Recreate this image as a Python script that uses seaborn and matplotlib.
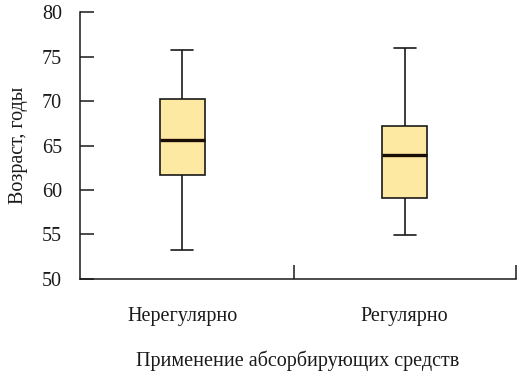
import numpy as np
import pandas as pd
import matplotlib
matplotlib.use("Agg")
import matplotlib.pyplot as plt
import seaborn as sns
from matplotlib.ticker import FixedLocator

# values: whisker low, Q1, median, Q3, whisker high
groups = ["Нерегулярно", "Регулярно"]
irregular = [53.2, 61.7, 65.6, 70.2, 75.8]
regular = [54.9, 59.1, 63.9, 67.2, 76.0]
y_ticks = [50, 55, 60, 65, 70, 75, 80]

df = pd.DataFrame({
    "group": [groups[0]] * len(irregular) + [groups[1]] * len(regular),
    "age": irregular + regular,
})

sns.set_theme(style="ticks")
plt.rcParams["font.family"] = ["Liberation Serif", "DejaVu Serif"]

fig = plt.figure(figsize=(5.2, 3.8), dpi=100)
ax = fig.add_axes([0.154, 0.266, 0.838, 0.702])

sns.boxplot(data=df, x="group", y="age", order=groups, ax=ax,
            width=0.2, whis=(0, 100), color="#FEE9A2", saturation=1,
            linecolor="#1a1a1a", linewidth=1.2,
            medianprops=dict(color="#1a0d05", linewidth=2.4),
            capprops=dict(linewidth=1.2), whiskerprops=dict(linewidth=1.2))

ax.set_xlim(-0.46, 1.5)
ax.set_ylim(50, 80)
ax.set_yticks(y_ticks)
ax.xaxis.set_minor_locator(FixedLocator([0.5, 1.5]))
ax.tick_params(axis="x", which="major", length=0, pad=20, labelsize=14.5, colors="#1a1a1a")
ax.tick_params(axis="x", which="minor", direction="in", length=10, width=1.1, color="#1a1a1a")
ax.tick_params(axis="y", direction="in", length=10, width=1.1, pad=13, labelsize=14.5,
               color="#1a1a1a", labelcolor="#1a1a1a")

for side in ["top", "right"]:
    ax.spines[side].set_visible(False)
for side in ["left", "bottom"]:
    ax.spines[side].set_linewidth(1.1)
    ax.spines[side].set_color("#1a1a1a")

ax.set_xlabel("Применение абсорбирующих средств", fontsize=14.5, labelpad=18, color="#1a1a1a")
ax.set_ylabel("Возраст, годы", fontsize=14.5, labelpad=10, color="#1a1a1a")

fig.savefig("out.png", dpi=100, facecolor="white")
